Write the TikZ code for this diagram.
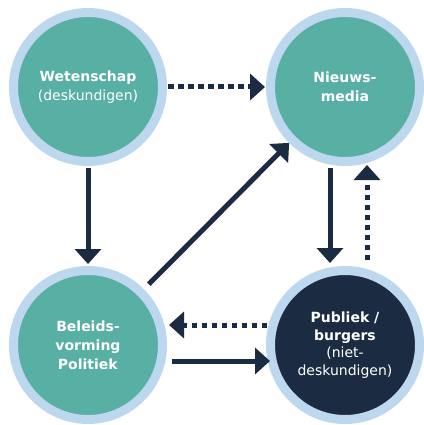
\documentclass[tikz,border=0pt]{standalone}
\usepackage{fontspec}
\setmainfont{DejaVu Sans}
\usetikzlibrary{arrows.meta,calc}
\definecolor{ringblue}{HTML}{BDD7EE}
\definecolor{tealfill}{HTML}{58AFA4}
\definecolor{navy}{HTML}{1B2C42}
\tikzset{
  actor/.style={circle, draw=ringblue, line width=9pt, fill=tealfill, minimum size=149pt, inner sep=0pt, text=white, align=center, font=\fontsize{14}{19}\selectfont},
  darkactor/.style={actor, fill=navy, font=\fontsize{14}{17.5}\selectfont},
  solidarrow/.style={draw=navy, line width=5pt, -{Triangle[length=15pt,width=26pt]}},
  dotarrow/.style={solidarrow, dash pattern=on 5.5pt off 4.5pt},
}
\begin{document}
\begin{tikzpicture}[x=1pt,y=-1pt]
\useasboundingbox (0,0) rectangle (423,425);
\node[actor] (W) at (88,87) {\textbf{Wetenschap}\\(deskundigen)};
\node[actor] (N) at (345,87) {\textbf{Nieuws-}\\\textbf{media}};
\node[actor] (B) at (88,345) {\textbf{Beleids-}\\\textbf{vorming}\\\textbf{Politiek}};
\node[darkactor] (P) at (345,345) {\textbf{Publiek /}\\\textbf{burgers}\\(niet-\\deskundigen)};
% top horizontal dotted
\draw[dotarrow, shorten <=1pt, shorten >=1pt] (W.east) -- (N.west);
% Wetenschap down
\draw[solidarrow, shorten <=2pt, shorten >=2pt] (W.south) -- (B.north);
% Beleidsvorming diagonal to Nieuwsmedia
\draw[solidarrow, shorten <=7pt] (B.north east) -- (N.south west);
% Nieuws down to Publiek
\coordinate (n1) at ($(N.center)+(-15,81)$);
\coordinate (p1) at ($(P.center)+(-15,-82)$);
\draw[solidarrow] (n1) -- (p1);
% Publiek dotted up to Nieuws
\coordinate (p2) at ($(P.center)+(22,-85)$);
\coordinate (n2) at ($(N.center)+(22,78)$);
\draw[dotarrow] (p2) -- (n2);
% Publiek dotted left to Beleids
\coordinate (p3) at ($(P.center)+(-78,-20)$);
\coordinate (b3) at ($(B.center)+(81,-20)$);
\draw[dotarrow] (p3) -- (b3);
% Beleids right to Publiek
\coordinate (b4) at ($(B.center)+(84,16)$);
\coordinate (p4) at ($(P.center)+(-75,16)$);
\draw[solidarrow] (b4) -- (p4);
\end{tikzpicture}
\end{document}
